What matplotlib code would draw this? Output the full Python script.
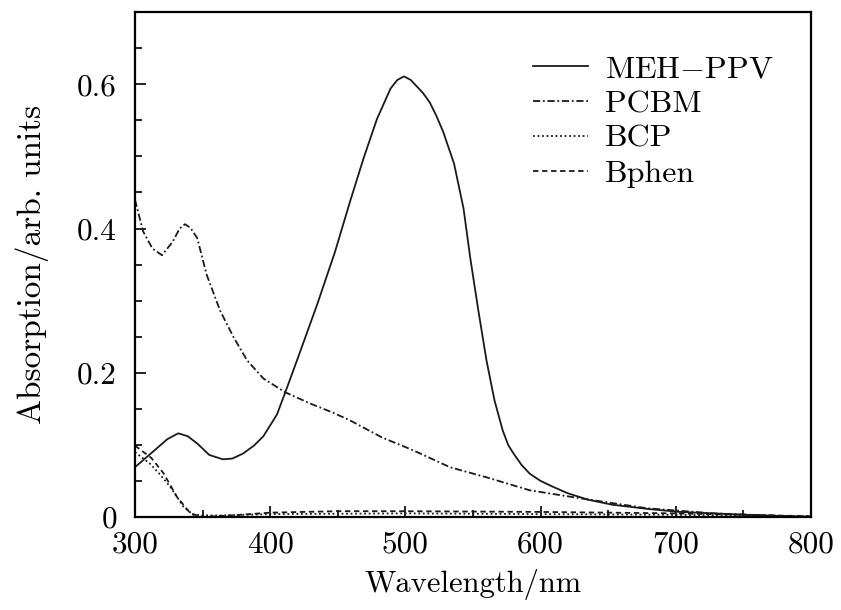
import matplotlib
matplotlib.use("Agg")
import matplotlib.pyplot as plt
from matplotlib.ticker import MultipleLocator

plt.rcParams['font.family'] = 'serif'
plt.rcParams['font.serif'] = ['cmr10']
plt.rcParams['mathtext.fontset'] = 'cm'
plt.rcParams['axes.formatter.use_mathtext'] = True

# values
meh_x = [300, 308, 316, 324, 332, 339, 346, 355, 365, 372, 380, 388, 395, 405, 411, 420,
         435, 448, 459, 469, 479, 489, 494, 499, 504, 508, 513, 518, 523, 528, 536, 543,
         548, 554, 560, 566, 572, 576, 580, 586, 592, 600, 609, 620, 635, 653, 680, 703,
         752, 800]
meh_y = [0.069, 0.082, 0.095, 0.108, 0.116, 0.112, 0.102, 0.086, 0.080, 0.081, 0.088, 0.099,
         0.112, 0.142, 0.172, 0.218, 0.296, 0.368, 0.437, 0.497, 0.552, 0.594, 0.606, 0.611,
         0.606, 0.598, 0.588, 0.575, 0.556, 0.534, 0.490, 0.428, 0.359, 0.286, 0.217, 0.161,
         0.120, 0.100, 0.088, 0.072, 0.060, 0.050, 0.042, 0.033, 0.024, 0.017, 0.011, 0.007,
         0.003, 0.0]

pcbm_x = [300, 306, 313, 320, 328, 333, 337, 341, 346, 353, 363, 373, 383, 395, 411, 430,
          446, 459, 483, 500, 511, 533, 560, 592, 629, 679, 728, 800]
pcbm_y = [0.440, 0.396, 0.372, 0.363, 0.382, 0.400, 0.406, 0.401, 0.387, 0.336, 0.286, 0.249,
          0.217, 0.192, 0.173, 0.157, 0.145, 0.134, 0.110, 0.097, 0.088, 0.069, 0.055, 0.037,
          0.026, 0.012, 0.005, 0.0]

bcp_x = [300, 311, 318, 326, 336, 343, 360, 400, 500, 600, 700, 800]
bcp_y = [0.090, 0.074, 0.060, 0.042, 0.014, 0.003, 0.002, 0.004, 0.005, 0.004, 0.003, 0.001]

bphen_x = [300, 312, 321, 331, 341, 350, 370, 400, 450, 500, 600, 700, 750, 800]
bphen_y = [0.099, 0.082, 0.061, 0.028, 0.005, 0.0, 0.002, 0.006, 0.008, 0.008, 0.007, 0.005,
           0.003, 0.001]

labels = [r'MEH$-$PPV', 'PCBM', 'BCP', 'Bphen']
x_ticks = [300, 400, 500, 600, 700, 800]
y_ticks = [0, 0.2, 0.4, 0.6]
y_tick_labels = ['0', '0.2', '0.4', '0.6']

fig = plt.figure(figsize=(8.41, 6.10), dpi=100)
ax = fig.add_axes([0.1605, 0.1525, 0.8038, 0.8275])

c = '#1a1a1a'
lw = 1.3
ax.plot(meh_x, meh_y, color=c, lw=lw, label=labels[0])
ax.plot(pcbm_x, pcbm_y, color=c, lw=lw, dashes=(4, 1.5, 1, 1.5), label=labels[1])
ax.plot(bcp_x, bcp_y, color=c, lw=lw, dashes=(1, 1.5), label=labels[2])
ax.plot(bphen_x, bphen_y, color=c, lw=lw, dashes=(3, 2), label=labels[3])

ax.set_xlim(300, 800)
ax.set_ylim(0, 0.7)
ax.set_xticks(x_ticks)
ax.set_xticklabels([str(v) for v in x_ticks])
ax.set_yticks(y_ticks)
ax.set_yticklabels(y_tick_labels)
ax.xaxis.set_minor_locator(MultipleLocator(50))
ax.yaxis.set_minor_locator(MultipleLocator(0.05))
ax.tick_params(which='both', direction='in', top=False, right=False, labelsize=22.5, width=1.2)
ax.tick_params(which='major', length=8)
ax.tick_params(which='minor', length=5)
ax.tick_params(axis='x', pad=10)
ax.tick_params(axis='y', pad=13)
for s in ax.spines.values():
    s.set_linewidth(1.6)

ax.set_xlabel('Wavelength/nm', fontsize=22, labelpad=7)
ax.set_ylabel('Absorption/arb. units', fontsize=24, labelpad=20)

ax.legend(loc='upper left', bbox_to_anchor=(0.589, 0.915), frameon=False, fontsize=23,
          borderpad=0, borderaxespad=0, handlelength=1.72, handletextpad=0.53,
          labelspacing=0.2)

fig.savefig('out.png', dpi=100)
